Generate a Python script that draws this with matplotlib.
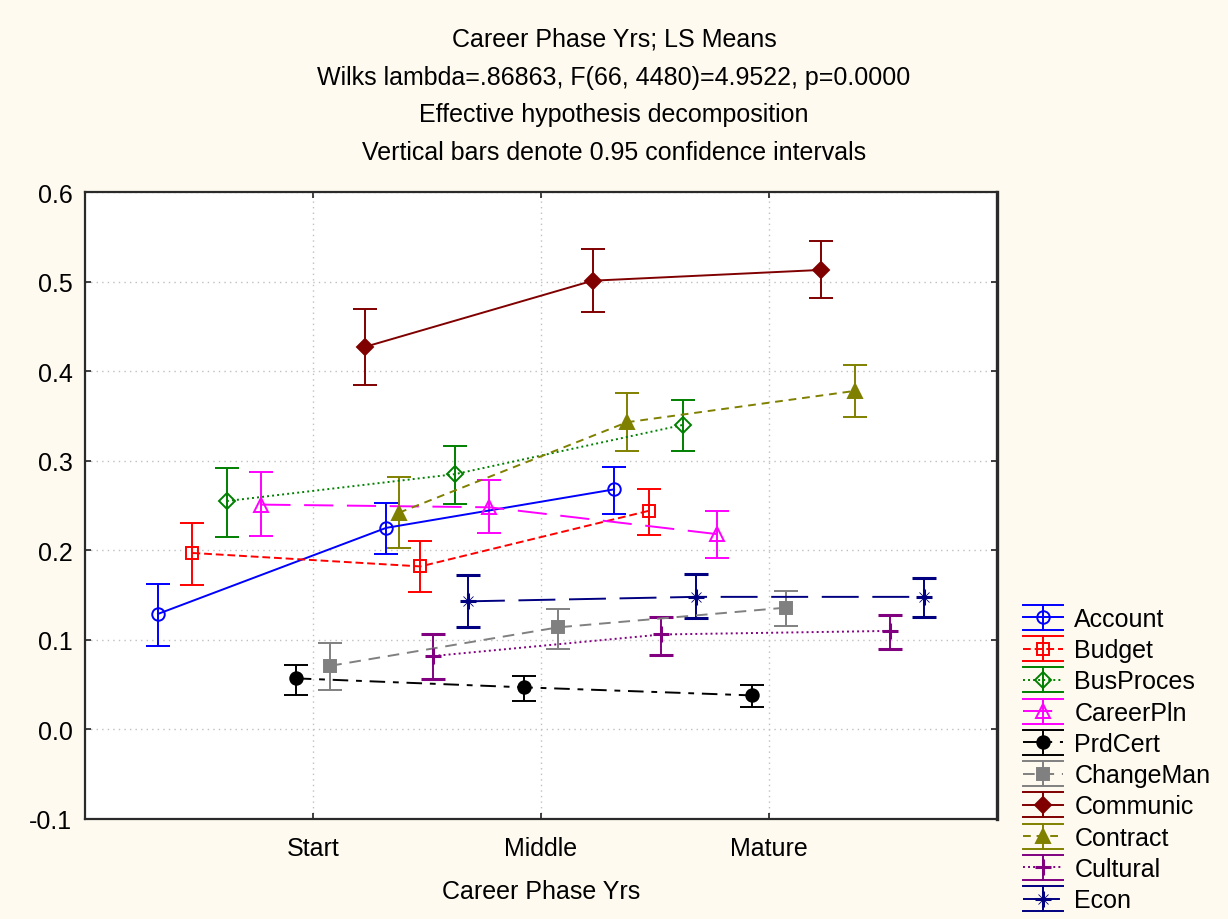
import numpy as np
import matplotlib.pyplot as plt
from matplotlib.lines import Line2D
from matplotlib.legend_handler import HandlerBase

plt.rcParams['font.family'] = ['Liberation Sans', 'DejaVu Sans']

phases = ['Start', 'Middle', 'Mature']
series = ['Account', 'Budget', 'BusProces', 'CareerPln', 'PrdCert',
          'ChangeMan', 'Communic', 'Contract', 'Cultural', 'Econ']

# LS means per career phase (one value per series, same order as `series`)
mean_start = [0.129, 0.197, 0.255, 0.251, 0.057, 0.071, 0.427, 0.242, 0.082, 0.143]
mean_middle = [0.225, 0.182, 0.285, 0.248, 0.047, 0.114, 0.501, 0.343, 0.106, 0.148]
mean_mature = [0.268, 0.244, 0.340, 0.218, 0.038, 0.136, 0.513, 0.378, 0.110, 0.148]

# 0.95 confidence limits
low_start = [0.093, 0.161, 0.215, 0.216, 0.038, 0.044, 0.385, 0.202, 0.056, 0.114]
high_start = [0.162, 0.230, 0.292, 0.287, 0.072, 0.096, 0.469, 0.282, 0.106, 0.172]
low_middle = [0.196, 0.153, 0.252, 0.219, 0.032, 0.090, 0.466, 0.311, 0.083, 0.124]
high_middle = [0.253, 0.210, 0.316, 0.278, 0.060, 0.134, 0.536, 0.376, 0.125, 0.173]
low_mature = [0.241, 0.217, 0.311, 0.191, 0.025, 0.115, 0.482, 0.349, 0.090, 0.125]
high_mature = [0.293, 0.268, 0.368, 0.244, 0.050, 0.154, 0.545, 0.407, 0.128, 0.169]

colors = ['#0000ff', '#ff0000', '#008000', '#ff00ff', '#000000',
          '#808080', '#800000', '#808000', '#800080', '#000080']
markers = ['o', 's', 'D', '^', 'o', 's', 'D', '^', '+', '+']
filled = [False, False, False, False, True, True, True, True, True, True]
msizes = [9, 8.5, 8, 9.5, 9, 8.5, 8, 9.5, 11, 11]
styles = ['-', (0, (4, 2)), (0, (1, 1.6)), (0, (15, 7)), (0, (8, 4, 3, 4)),
          (0, (6, 4)), '-', (0, (4, 3)), (0, (1, 1.6)), (0, (19, 7))]

means = np.array([mean_start, mean_middle, mean_mature]).T
lows = np.array([low_start, low_middle, low_mature]).T
highs = np.array([high_start, high_middle, high_mature]).T

LW = 1.4


class ErrBarHandler(HandlerBase):
    # legend key: line + marker with a full-height error bar and wide caps
    def create_artists(self, legend, orig_handle, xdescent, ydescent,
                       width, height, fontsize, trans):
        x0, x1 = -xdescent, -xdescent + width
        y0, y1 = -ydescent - 0.1 * height, -ydescent + 1.1 * height
        xm, ym = (x0 + x1) / 2, (y0 + y1) / 2
        c = orig_handle.get_color()
        line = Line2D([x0, x1], [ym, ym])
        line.update_from(orig_handle)
        line.set_marker('None')
        bars = [Line2D([xm, xm], [y0, y1], color=c, lw=LW),
                Line2D([x0, x1], [y0, y0], color=c, lw=LW),
                Line2D([x0, x1], [y1, y1], color=c, lw=LW)]
        mark = Line2D([xm], [ym])
        mark.update_from(orig_handle)
        mark.set_linestyle('None')
        arts = [line] + bars + [mark]
        if orig_handle.get_gid() == 'star':
            arts.append(Line2D([xm], [ym], marker='x', ms=7, mew=0.6,
                               color=c, ls='None'))
        for a in arts:
            a.set_transform(trans)
        return arts


fig = plt.figure(figsize=(12.28, 9.2), dpi=100, facecolor='#fefaef')
ax = fig.add_axes([0.0692, 0.1087, 0.7427, 0.6815])
ax.set_facecolor('white')

xpos = np.arange(len(phases))
handles = []
for i, name in enumerate(series):
    x = xpos + (i - 4.5) * 0.151
    c = colors[i]
    mfc = c if filled[i] else 'none'
    mew = 2.2 if markers[i] == '+' else 1.4
    ax.errorbar(x, means[i], yerr=[means[i] - lows[i], highs[i] - means[i]],
                color=c, ecolor=c, elinewidth=LW, capsize=8.5, capthick=LW,
                lw=LW, ls=styles[i], marker=markers[i], ms=msizes[i],
                mfc=mfc, mec=c, mew=mew, zorder=3 + i * 0.01)
    h = Line2D([], [], color=c, lw=LW, ls=styles[i], marker=markers[i],
               ms=msizes[i], mfc=mfc, mec=c, mew=mew)
    if name == 'Econ':
        ax.plot(x, means[i], ls='None', marker='x', ms=7, mew=0.6, color=c,
                zorder=4)
        h.set_gid('star')
    handles.append(h)

ax.set_xlim(-1, 3)
ax.set_ylim(-0.1, 0.6)
ax.set_xticks(xpos)
ax.set_xticklabels(phases)
ax.set_yticks(np.arange(-0.1, 0.61, 0.1))
ax.set_yticklabels([f'{v:.1f}' for v in np.arange(-0.1, 0.61, 0.1)])
ax.tick_params(axis='both', direction='in', length=4, width=1.2,
               top=True, right=True, labelsize=18, colors='#202020')
ax.tick_params(axis='y', pad=9)
ax.tick_params(axis='x', pad=12)
for lab in ax.get_xticklabels() + ax.get_yticklabels():
    lab.set_color('black')
ax.grid(True, color='#c0c0c0', ls=(0, (1, 3)), lw=1.0)
ax.set_axisbelow(True)
for sp in ax.spines.values():
    sp.set_linewidth(1.6)
    sp.set_color('#2a2a2a')
ax.spines['right'].set_linewidth(2.4)

ax.set_xlabel('Career Phase Yrs', fontsize=18, labelpad=14)

title_lines = ['Career Phase Yrs; LS Means',
               'Wilks lambda=.86863, F(66, 4480)=4.9522, p=0.0000',
               'Effective hypothesis decomposition',
               'Vertical bars denote 0.95 confidence intervals']
for k, t in enumerate(title_lines):
    fig.text(0.5, 1 - (40 + 37.7 * k) / 920, t, ha='center', va='center',
             fontsize=18)

fig.legend(handles, series, handler_map={Line2D: ErrBarHandler()},
           loc='upper left', bbox_to_anchor=(1023 / 1228, 1 - 608 / 920),
           frameon=False, fontsize=18, handlelength=1.6, handleheight=0.9,
           handletextpad=0.45, labelspacing=0.29, borderaxespad=0,
           borderpad=0)

fig.savefig('out.png', dpi=100, facecolor=fig.get_facecolor())
